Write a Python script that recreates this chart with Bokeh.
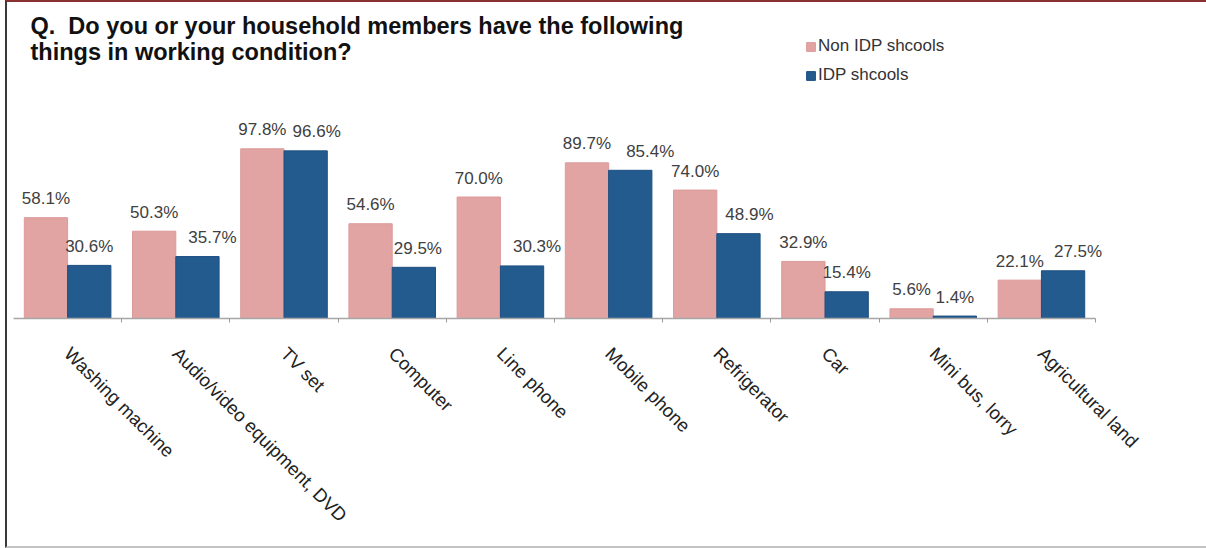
from bokeh.plotting import figure
from bokeh.layouts import column
from bokeh.models import ColumnDataSource, Range1d, FixedTicker, Legend, LegendItem, Label
from bokeh.core.properties import value
from bokeh.embed import file_html
from bokeh.resources import INLINE

categories = ["Washing machine", "Audio/video equipment, DVD", "TV set", "Computer",
              "Line phone", "Mobile phone", "Refrigerator", "Car", "Mini bus, lorry",
              "Agricultural land"]
non_idp = [58.1, 50.3, 97.8, 54.6, 70.0, 89.7, 74.0, 32.9, 5.6, 22.1]
idp = [30.6, 35.7, 96.6, 29.5, 30.3, 85.4, 48.9, 15.4, 1.4, 27.5]
series_names = ["Non IDP shcools", "IDP shcools"]

# horizontal nudges (px) of the IDP value labels, as placed in the original chart
idp_label_nudge = [0, 15, 11, 4, 15, 20, 11, 0, 0, 15]

PINK = "#e2a3a3"
BLUE = "#245b8e"

n = len(categories)
idx = list(range(n))

src_pink = ColumnDataSource(dict(x=[i - 0.2 for i in idx], top=non_idp,
                                 label=[f"{v:.1f}%" for v in non_idp],
                                 dx=[0] * n))
src_blue = ColumnDataSource(dict(x=[i + 0.2 for i in idx], top=idp,
                                 label=[f"{v:.1f}%" for v in idp],
                                 dx=idp_label_nudge))

p = figure(width=1199, height=544, output_backend="svg", toolbar_location=None,
           x_range=Range1d(-0.5, n - 0.5 + 0.277), y_range=Range1d(0, 182.1),
           y_axis_location=None,
           min_border_left=6, min_border_right=81, min_border_top=0, min_border_bottom=228)

r1 = p.vbar(x="x", top="top", width=0.4, source=src_pink, fill_color=PINK, line_color="#dc9a9a")
r2 = p.vbar(x="x", top="top", width=0.4, source=src_blue, fill_color=BLUE, line_color="#1d4f80")

for src in (src_pink, src_blue):
    p.text(x="x", y="top", text="label", source=src, text_align="center",
           text_baseline="alphabetic", y_offset=-19, x_offset="dx",
           text_font=value("Liberation Sans"), text_font_size=value("17px"),
           text_color="#404040")

p.xaxis.bounds = (-0.5, n - 0.5)
p.xaxis.ticker = FixedTicker(ticks=idx, minor_ticks=[i + 0.5 for i in idx])
p.xaxis.major_label_overrides = {i: c for i, c in enumerate(categories)}
p.xaxis.major_label_orientation = -0.785398
p.xaxis.major_label_standoff = 26
p.xaxis.major_label_text_font = "Liberation Sans"
p.xaxis.major_label_text_font_size = "18.5px"
p.xaxis.major_label_text_color = "#222222"
p.xaxis.major_tick_line_color = None
p.xaxis.minor_tick_line_color = "#999999"
p.xaxis.minor_tick_out = 4
p.xaxis.minor_tick_in = 0
p.xaxis.axis_line_color = "#a6a6a6"
p.xaxis.axis_line_width = 1.5

p.xgrid.visible = False
p.ygrid.visible = False
p.outline_line_color = None

legend = Legend(items=[LegendItem(label=series_names[0], renderers=[r1]),
                       LegendItem(label=series_names[1], renderers=[r2])],
                location=(792, 233), orientation="vertical",
                glyph_width=11, glyph_height=11, label_height=11, spacing=9,
                padding=0, margin=0, border_line_color=None, background_fill_alpha=0,
                label_text_font_size="17px", label_text_font="Liberation Sans",
                label_standoff=2, label_text_color="#333333")
p.add_layout(legend)

title_lines = ["Q.\u00a0 Do you or your household members have the following",
               "things in working condition?"]
for line, y in zip(title_lines, [293, 267]):
    p.add_layout(Label(x=17, y=y, x_units="screen", y_units="screen", text=line,
                       text_font="Liberation Sans", text_font_size="23.5px",
                       text_font_style="bold", text_color="#111111",
                       text_baseline="alphabetic"))

layout = column(p, styles={"margin-left": "5px",
                           "border-left": "2px solid #3a3a3a",
                           "border-top": "2px solid #8a3030",
                           "border-bottom": "2px solid #c4c4c4"})

open("out.html", "w").write(file_html(layout, INLINE))
